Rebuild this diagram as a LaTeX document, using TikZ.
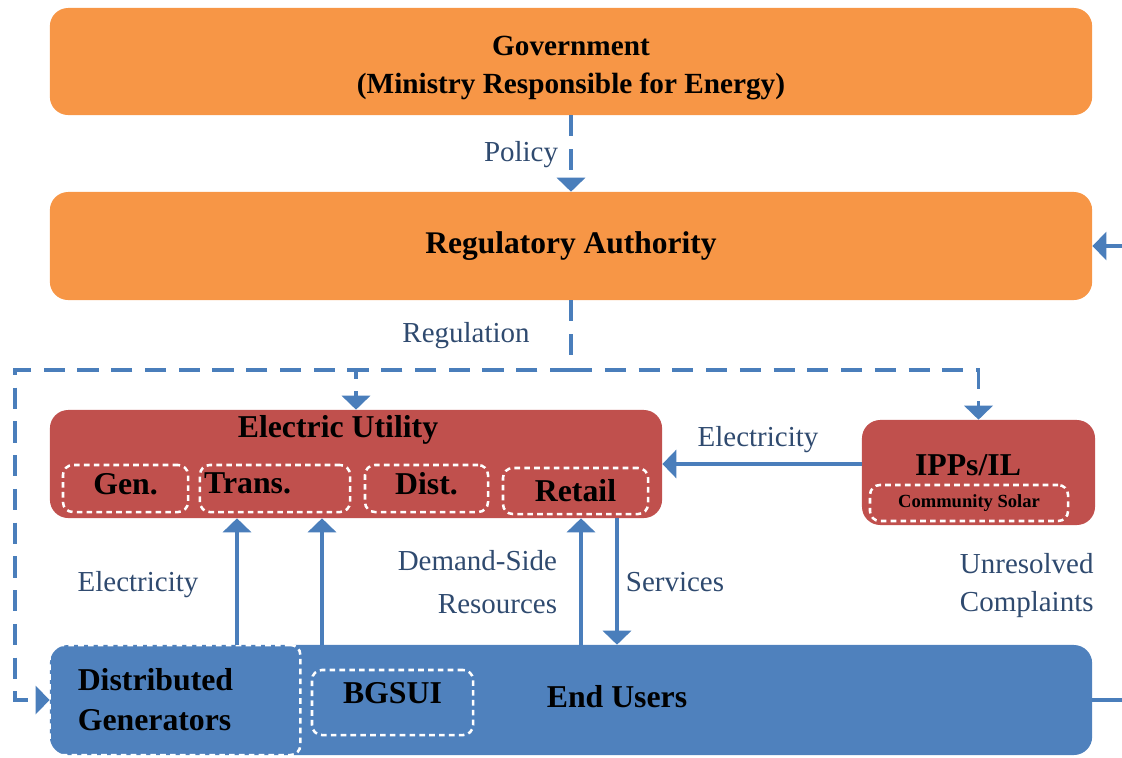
\documentclass[tikz,border=0pt]{standalone}
\usepackage{fontspec}
\setmainfont{Liberation Serif}
\usepackage{tikz}
\usetikzlibrary{arrows.meta}
\definecolor{govorange}{HTML}{F79646}
\definecolor{utilred}{HTML}{C0504D}
\definecolor{userblue}{HTML}{4F81BD}
\definecolor{flowblue}{HTML}{4A7EBB}
\definecolor{labblue}{HTML}{2F4A6F}
\tikzset{
  govbox/.style={fill=govorange, rounded corners=13pt, minimum width=26.05cm, align=center},
  utilbox/.style={fill=utilred, rounded corners=13pt},
  userbox/.style={fill=userblue, rounded corners=13pt},
  part/.style={draw=white, dash pattern=on 4pt off 3pt, line width=1.8pt, rounded corners=7pt},
  plain/.style={draw=flowblue, line width=2.8pt},
  flow/.style={plain, -{Triangle[width=20pt,length=10pt]}},
  regline/.style={plain, dash pattern=on 15pt off 9pt},
  regflow/.style={regline, -{Triangle[width=20pt,length=10pt]}},
  title/.style={font=\fontsize{22.6}{27}\selectfont\bfseries},
  labt/.style={text=labblue, font=\fontsize{20.6}{30}\selectfont}
}

\begin{document}
\begin{tikzpicture}[x=0.025cm, y=-0.025cm]
  \useasboundingbox (0,0) rectangle (1122,757);

  % top of the hierarchy
  \node[govbox, minimum height=2.675cm] (gov) at (571,61.5) {};
  \node[align=center, font=\fontsize{20.8}{27}\selectfont\bfseries] (govt) at (571,68)
    {Government\\(Ministry Responsible for Energy)};
  \node[govbox, minimum height=2.7cm, font=\fontsize{22.4}{27}\selectfont\bfseries] (reg) at (571,246)
    {Regulatory Authority};

  % utility and its functions
  \node[utilbox, minimum width=15.3cm, minimum height=2.7cm] (util) at (356,464) {};
  \node[title] (utilt) at (338,430) {Electric Utility};
  \node[part, title, minimum width=3.125cm, minimum height=1.175cm, text depth=7pt] (gen) at (125.5,488.5) {Gen.};
  \node[part, title, minimum width=3.75cm, minimum height=1.175cm, text depth=7pt,
        inner xsep=3pt, text width=3.54cm, align=left] (trans) at (275,488.5) {Trans.};
  \node[part, title, minimum width=3.075cm, minimum height=1.175cm, text depth=7pt] (dist) at (426.5,488.5) {Dist.};
  \node[part, title, minimum width=3.625cm, minimum height=1.15cm] (retail) at (575.5,491) {Retail};

  \node[utilbox, minimum width=5.825cm, minimum height=2.625cm] (ipp) at (978.5,472.5) {};
  \node[title] (ippt) at (968,465) {IPPs/IL};
  \node[part, minimum width=4.95cm, minimum height=0.9cm, font=\fontsize{13.2}{15}\selectfont\bfseries]
    (solar) at (969,503) {Community Solar};

  % customers
  \node[userbox, minimum width=26.05cm, minimum height=2.75cm] (users) at (571,700) {};
  \node[title] (userst) at (617,697) {End Users};
  \node[part, title, minimum width=6.25cm, minimum height=2.75cm, inner xsep=20pt,
        text width=4.86cm, align=left, font=\fontsize{22.6}{28.5}\selectfont\bfseries] (dg) at (175,700)
    {Distributed\\Generators};
  \node[part, title, minimum width=4.025cm, minimum height=1.625cm, text depth=14pt] (bgsui) at (392.5,702.5) {BGSUI};

  % policy and regulation
  \draw[regflow] (gov.south) -- (reg.north);
  \node[labt, anchor=east] (pol) at (563,155) {Policy};

  \coordinate (hub) at (571,370);
  \coordinate (loop) at (15,370);
  \draw[regline] (reg.south) -- (hub);
  \draw[regflow] (hub) -| (util.north);
  \draw[regflow] (hub) -| (ipp.north);
  \draw[regflow] (hub) -- (loop) |- (users.west);
  \node[labt] (regl) at (466,336) {Regulation};

  % flows between parties
  \draw[flow] (ipp.west |- util.east) -- (util.east);
  \node[labt] (ippl) at (758,440) {Electricity};

  \coordinate (dgfeed) at (237,645);
  \coordinate (bgfeed) at (322,645);
  \coordinate (dsr) at (581,645);
  \coordinate (svc) at (617,518);
  \draw[flow] (dgfeed) -- (dgfeed |- util.south);
  \draw[flow] (bgfeed) -- (bgfeed |- util.south);
  \draw[flow] (dsr) -- (dsr |- util.south);
  \draw[flow] (svc) -- (svc |- users.north);
  \node[labt] (dgl) at (138,585) {Electricity};
  \node[labt, anchor=east, align=right] (dsrl) at (562,582) {Demand-Side\\Resources};
  \node[labt, anchor=west] (svcl) at (621,582) {Services};

  % complaints loop leaves the picture
  \coordinate (cin) at (1122,246);
  \coordinate (cout) at (1122,700);
  \draw[flow] (cin) -- (reg.east);
  \draw[plain] (users.east) -- (cout);
  \node[labt, anchor=west, align=left, font=\fontsize{20.6}{27}\selectfont] (compl) at (955,586)
    {Unresolved\\Complaints};
\end{tikzpicture}
\end{document}
